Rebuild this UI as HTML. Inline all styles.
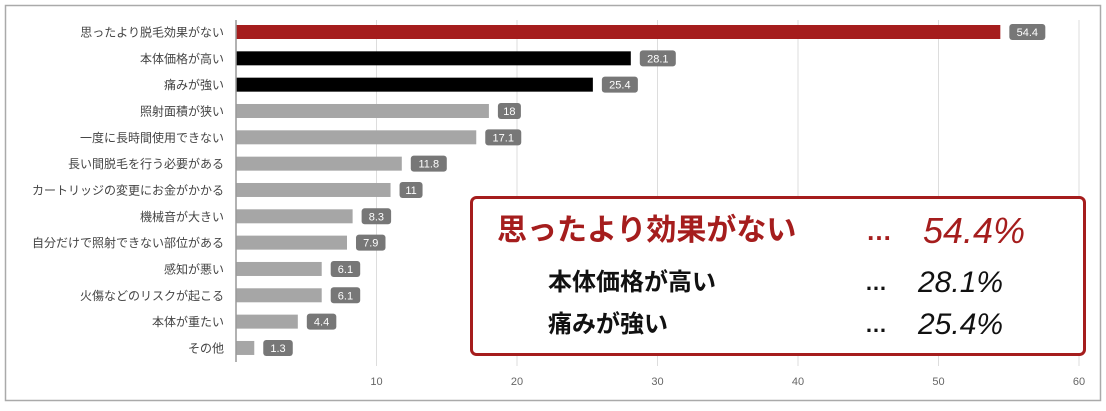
<!DOCTYPE html>
<html><head><meta charset="utf-8"><style>
body{margin:0;background:#fff;}
svg text{font-family:"Liberation Sans","Noto Sans CJK JP",sans-serif;}
</style></head><body>
<svg width="1106" height="406" id="c">
<rect x="5.5" y="5.5" width="1095" height="395" fill="#fff" stroke="#aaa" stroke-width="1.5"/>
<g id="grid"></g><g id="bars"></g><g id="ylab"></g><g id="xlab"></g>
<line x1="236" y1="20" x2="236" y2="362" stroke="#999" stroke-width="1.5"/>
<g>
<rect x="471.5" y="197.5" width="613" height="157" rx="5" fill="#fff" stroke="#a51d1d" stroke-width="3"/>
<text x="497" y="240" font-size="30" font-weight="bold" fill="#a51d1d">思ったより効果がない</text>
<text x="866" y="240" font-size="26" font-weight="bold" fill="#a51d1d">…</text>
<text x="923" y="243" font-size="36" font-style="italic" fill="#a51d1d">54.4%</text>
<text x="548" y="290" font-size="24" font-weight="bold" fill="#111">本体価格が高い</text>
<text x="865" y="290" font-size="22" font-weight="bold" fill="#111">…</text>
<text x="918" y="292" font-size="30" font-style="italic" fill="#111">28.1%</text>
<text x="548" y="332" font-size="24" font-weight="bold" fill="#111">痛みが強い</text>
<text x="865" y="332" font-size="22" font-weight="bold" fill="#111">…</text>
<text x="918" y="334" font-size="30" font-style="italic" fill="#111">25.4%</text>
</g>
</svg>
<script>
const categories=["思ったより脱毛効果がない","本体価格が高い","痛みが強い","照射面積が狭い","一度に長時間使用できない","長い間脱毛を行う必要がある","カートリッジの変更にお金がかかる","機械音が大きい","自分だけで照射できない部位がある","感知が悪い","火傷などのリスクが起こる","本体が重たい","その他"];
const values=[54.4,28.1,25.4,18,17.1,11.8,11,8.3,7.9,6.1,6.1,4.4,1.3];
const valueLabels=["54.4","28.1","25.4","18","17.1","11.8","11","8.3","7.9","6.1","6.1","4.4","1.3"];
const ticks=[10,20,30,40,50,60];
const NS="http://www.w3.org/2000/svg";
const x=v=>236+v*14.05;
const y=i=>32+i*26.33;
function mk(t,a,p){const e=document.createElementNS(NS,t);for(const k in a)e.setAttribute(k,a[k]);p.appendChild(e);return e;}
const G=document.getElementById('grid'),B=document.getElementById('bars'),YL=document.getElementById('ylab'),XL=document.getElementById('xlab');
ticks.forEach(t=>{
 const l=mk('line',{x1:x(t),x2:x(t),y1:20,y2:366,stroke:'#ddd','stroke-width':1},G);
 
 
 const tx=mk('text',{x:x(t),y:385,'text-anchor':'middle','font-size':11,fill:'#666'},XL);
 tx.textContent=t;
 
 
});
values.forEach((v,i)=>{
 const col=i==0?'#a51d1d':(i<3?'#000':'#a6a6a6');
 const r=mk('rect',{x:236,y:y(i)-7,width:x(v)-236,height:14,fill:col},B);
 
 
 const lab=valueLabels[i];
 const w=lab.length*6.5+10;
 const bx=x(v)+9;
 const br=mk('rect',{x:bx,y:y(i)-8,width:w,height:16,rx:3,fill:'#777'},B);
 
 
 const bt=mk('text',{x:bx+w/2,y:y(i)+4,'text-anchor':'middle','font-size':11,fill:'#fff'},B);
 bt.textContent=lab;
 
 
 const ct=mk('text',{x:224,y:y(i)+4.5,'text-anchor':'end','font-size':12,fill:'#444'},YL);
 ct.textContent=categories[i];
 
 
});
</script>
</body></html>
